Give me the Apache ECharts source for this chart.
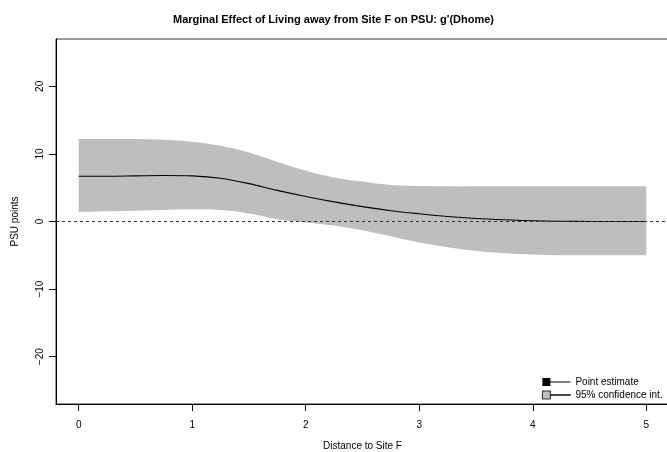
<!DOCTYPE html>
<html lang="en">
<head>
    <meta charset="UTF-8">
    <title>Marginal Effect</title>
    <style>
        body { margin: 0; overflow: hidden; background: #fff; }
        #chart { width: 667px; height: 452px; }
    </style>
</head>
<body>
    <div id="chart"></div>
    <script src="https://cdn.jsdelivr.net/npm/echarts@6/dist/echarts.min.js"></script>
    <script>
        // distance grid and curves
        var distance = [0, 0.25, 0.5, 0.75, 1, 1.25, 1.5, 1.75, 2, 2.25, 2.5, 2.75, 3, 3.25, 3.5, 3.75, 4, 4.25, 4.5, 4.75, 5];
        var estimate = [6.7, 6.7, 6.75, 6.8, 6.75, 6.4, 5.6, 4.6, 3.7, 2.9, 2.2, 1.6, 1.15, 0.75, 0.45, 0.25, 0.1, 0.04, 0.01, 0, 0];
        var upper = [12.2, 12.2, 12.2, 12.1, 11.8, 11.2, 10.2, 8.8, 7.5, 6.5, 5.9, 5.4, 5.25, 5.2, 5.2, 5.2, 5.2, 5.2, 5.2, 5.2, 5.2];
        var lower = [1.4, 1.5, 1.6, 1.7, 1.8, 1.7, 1.2, 0.35, -0.15, -0.6, -1.3, -2.2, -3.1, -3.8, -4.35, -4.7, -4.9, -5, -5, -5, -5];
        var xTicks = [0, 1, 2, 3, 4, 5];
        var yTicks = [-20, -10, 0, 10, 20];

        var font = 'Liberation Sans, Arial, Helvetica, sans-serif';
        var band = '#bebebe';

        function pairs(ys) {
            return distance.map(function (x, i) { return [x, ys[i]]; });
        }

        // catmull-rom through pixel points, as bezier path commands
        function curve(pts) {
            var d = '';
            for (var i = 0; i < pts.length - 1; i++) {
                var p0 = pts[Math.max(i - 1, 0)], p1 = pts[i], p2 = pts[i + 1], p3 = pts[Math.min(i + 2, pts.length - 1)];
                var c1x = p1[0] + (p2[0] - p0[0]) / 6, c1y = p1[1] + (p2[1] - p0[1]) / 6;
                var c2x = p2[0] - (p3[0] - p1[0]) / 6, c2y = p2[1] - (p3[1] - p1[1]) / 6;
                d += ' C' + c1x + ',' + c1y + ' ' + c2x + ',' + c2y + ' ' + p2[0] + ',' + p2[1];
            }
            return d;
        }

        function renderBand(params, api) {
            var top = distance.map(function (x, i) { return api.coord([x, upper[i]]); });
            var bottom = distance.map(function (x, i) { return api.coord([x, lower[i]]); }).reverse();
            var d = 'M' + top[0][0] + ',' + top[0][1] + curve(top) +
                ' L' + bottom[0][0] + ',' + bottom[0][1] + curve(bottom) + ' Z';
            return {
                type: 'path',
                shape: { pathData: d },
                style: { fill: band, stroke: null }
            };
        }

        var myChart = echarts.init(document.getElementById('chart'));
        var option = {
            animation: false,
            title: {
                text: "Marginal Effect of Living away from Site F on PSU: g'(Dhome)",
                left: 'center',
                top: 9,
                textStyle: { fontFamily: font, fontSize: 11, fontWeight: 'bold', color: '#000' }
            },
            grid: {
                left: 56, top: 39, width: 613, height: 365,
                outerBoundsMode: 'none',
                show: true, borderColor: '#333', borderWidth: 1
            },
            legend: {
                orient: 'vertical',
                left: 537, top: 372,
                itemGap: 3,
                itemWidth: 28, itemHeight: 8,
                textStyle: { fontFamily: font, fontSize: 10, color: '#000' },
                data: [
                    { name: 'Point estimate', icon: 'path://M0,0H8V8H0Z M8,3.6H28V4.4H8Z', itemStyle: { color: '#000' } },
                    { name: '95% confidence int.', icon: 'path://M0,0H8V8H0Z M8,3.7H28V4.3H8Z', itemStyle: { color: band, borderColor: '#000', borderWidth: 0.8 } }
                ]
            },
            xAxis: {
                type: 'value',
                min: -0.2, max: 5.2,
                name: 'Distance to Site F',
                nameLocation: 'middle',
                nameGap: 37,
                nameTextStyle: { fontFamily: font, fontSize: 10, color: '#000' },
                splitLine: { show: false },
                axisLine: { show: true, onZero: false, lineStyle: { color: '#000' } },
                axisTick: { show: true, length: 7, customValues: xTicks, lineStyle: { color: '#000' } },
                axisLabel: { customValues: xTicks, margin: 16, fontFamily: font, fontSize: 10, color: '#000' }
            },
            yAxis: {
                type: 'value',
                min: -27, max: 27,
                name: 'PSU points',
                nameLocation: 'middle',
                nameGap: 36,
                nameRotate: 90,
                nameTextStyle: { fontFamily: font, fontSize: 10, color: '#000' },
                splitLine: { show: false },
                axisLine: { show: true, onZero: false, lineStyle: { color: '#000' } },
                axisTick: { show: true, length: 7, customValues: yTicks, lineStyle: { color: '#000' } },
                axisLabel: {
                    customValues: yTicks, rotate: 90, margin: 11,
                    fontFamily: font, fontSize: 10, color: '#000',
                    formatter: function (v) { return String(v).replace('-', '\u2212'); }
                }
            },
            series: [
                {
                    name: '95% confidence int.',
                    type: 'custom',
                    itemStyle: { color: band },
                    renderItem: renderBand,
                    data: [[distance[0], upper[0]]]
                },
                {
                    name: 'Point estimate',
                    type: 'line',
                    smooth: 0.3,
                    symbol: 'none',
                    z: 3,
                    itemStyle: { color: '#000' },
                    lineStyle: { color: '#000', width: 1.1 },
                    data: pairs(estimate),
                    markLine: {
                        silent: true,
                        symbol: 'none',
                        label: { show: false },
                        lineStyle: { color: '#333', width: 1, type: [3, 3] },
                        data: [{ yAxis: 0 }]
                    }
                }
            ]
        };
        myChart.setOption(option);
    </script>
</body>
</html>
